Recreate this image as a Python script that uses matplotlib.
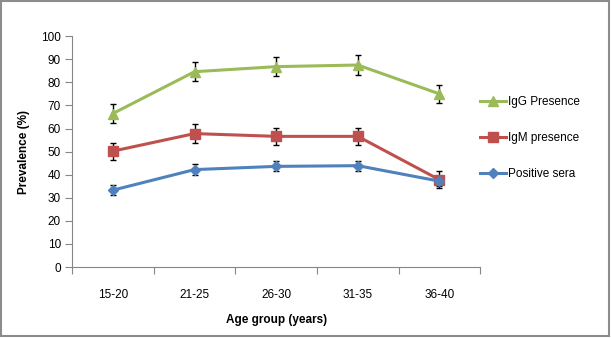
# prevalence by age group, IgG / IgM / positive sera

import numpy as np
import matplotlib.pyplot as plt
from matplotlib.patches import Rectangle

plt.rcParams['font.family'] = ['Liberation Sans', 'DejaVu Sans']

#%% Data

age_groups = ['15-20', '21-25', '26-30', '31-35', '36-40']

igg = [66.5, 84.6, 86.8, 87.5, 75.0]
igg_err = [4.0, 4.0, 4.2, 4.2, 4.0]

igm = [50.2, 57.8, 56.6, 56.6, 37.8]
igm_err = [3.7, 4.0, 3.8, 3.7, 3.6]

pos = [33.3, 42.2, 43.6, 43.9, 37.2]
pos_err = [2.1, 2.3, 2.2, 2.2, 2.2]

series = [
    ('IgG Presence', igg, igg_err, '#9BBB59', '^', 7),
    ('IgM presence', igm, igm_err, '#C0504D', 's', 7),
    ('Positive sera', pos, pos_err, '#4F81BD', 'D', 5),
]

#%% Figure

fig = plt.figure(figsize=(6.11, 3.38), dpi=100)
ax = fig.add_axes([0.118, 0.21, 0.668, 0.683])

x = np.arange(len(age_groups))
for name, vals, err, col, mk, ms in series:
    ax.errorbar(x, vals, yerr=err, color=col, linewidth=2.2, marker=mk,
                markersize=ms, markeredgecolor=col, ecolor='black',
                elinewidth=1, capsize=2.5, capthick=1, label=name)

ax.set_xlim(-0.5, len(age_groups) - 0.5)
ax.set_ylim(0, 100)
ax.set_yticks(np.arange(0, 101, 10))

# excel-style category axis: ticks between groups, labels centred
ax.set_xticks(np.arange(-0.5, len(age_groups), 1.0))
ax.set_xticklabels([])
ax.set_xticks(x, minor=True)
ax.set_xticklabels(age_groups, minor=True)
ax.tick_params(axis='x', which='minor', length=0, pad=16, labelsize=8.5)
ax.tick_params(axis='x', which='major', length=5, color='#868686')
ax.tick_params(axis='y', length=5, color='#868686', labelsize=8.5, pad=3)

for s in ['top', 'right']:
    ax.spines[s].set_visible(False)
for s in ['left', 'bottom']:
    ax.spines[s].set_color('#868686')

ax.set_ylabel('Prevalence (%)', fontsize=8.5, fontweight='bold', labelpad=8)
ax.set_xlabel('Age group (years)', fontsize=8.5, fontweight='bold', labelpad=9)

# legend without error bars
handles = [plt.Line2D([], [], color=c, linewidth=2.2, marker=m, markersize=s)
           for _, _, _, c, m, s in series]
fig.legend(handles, [s[0] for s in series], loc='upper left',
           bbox_to_anchor=(0.768, 0.747), frameon=False, fontsize=8.5,
           handlelength=2.2, handletextpad=0.15, labelspacing=2.02)

# grey frame around the chart area
fig.patches.append(Rectangle((0.002, 0.006), 0.994, 0.99, transform=fig.transFigure,
                             fill=False, edgecolor='#8c8c8c', linewidth=1.5))

plt.savefig('out.png', dpi=100)
